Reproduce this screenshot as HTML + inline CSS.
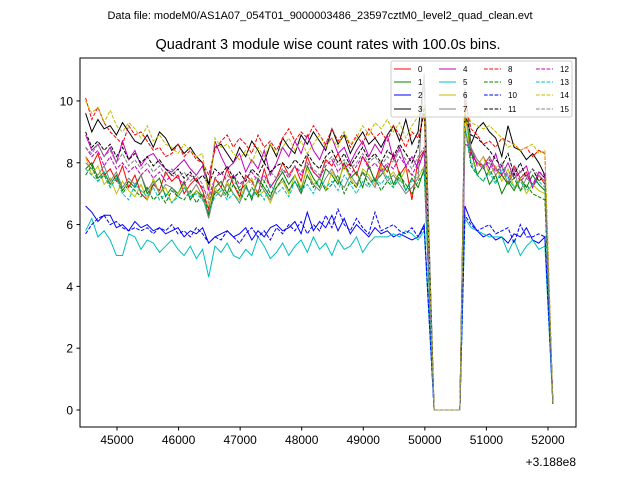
<!DOCTYPE html>
<html><head><meta charset="utf-8"><style>
body{margin:0;background:#fff;}
svg{display:block;font-family:"Liberation Sans","DejaVu Sans",sans-serif;}
</style></head><body>
<svg id="chart" width="640" height="480" viewBox="0 0 640 480" xmlns="http://www.w3.org/2000/svg">
<rect x="0" y="0" width="640" height="480" fill="#fff"/>
<text x="320" y="19" font-size="11" text-anchor="middle">Data file: modeM0/AS1A07_054T01_9000003486_23597cztM0_level2_quad_clean.evt</text>
<text x="328" y="49" font-size="14.5" text-anchor="middle">Quadrant 3 module wise count rates with 100.0s bins.</text>
<defs><clipPath id="pc"><rect x="80" y="58" width="496" height="369"/></clipPath></defs>
<g id="series" clip-path="url(#pc)"></g>
<rect x="80" y="58" width="496" height="369" fill="none" stroke="#000" stroke-width="1"/>
<g id="axes"></g>
<text x="576" y="466" font-size="12" text-anchor="end">+3.188e8</text>
<g id="legend"></g>
</svg>
<script>
const preTimes = [];
for (let i = 0; i < 56; i++) preTimes.push(44490 + 100 * i);
const gapTimes = [50150, 50250, 50350, 50450, 50570];
const postTimes = [50650,50750,50850,50950,51050,51150,51250,51350,51450,51550,51650,51750,51850,51950];
const endTime = 52080;
const gapValues = [0, 0, 0, 0, 0];
const xTicks = [45000,46000,47000,48000,49000,50000,51000,52000];
const yTicks = [0,2,4,6,8,10];
const seriesNames = ["0","1","2","3","4","5","6","7","8","9","10","11","12","13","14","15"];

const pre0=[8.2,7.9,8.3,7.6,7.8,7.4,7.9,7.2,7.6,7.0,6.8,7.3,7.1,7.7,7.4,7.6,7.0,7.3,7.5,7.1,6.5,7.5,7.2,7.8,7.3,6.9,7.6,7.4,7.0,7.8,7.2,7.5,8.0,7.6,7.9,7.4,8.2,7.7,7.5,8.1,7.9,8.3,7.8,8.0,7.6,8.2,7.9,7.4,8.0,7.7,8.3,7.6,7.9,6.8,8.1,8.4];
const post0=[9.6,8.3,8.0,7.9,8.2,7.8,7.6,7.3,7.9,7.5,7.7,7.2,7.6,7.3,0.2];
const pre1=[7.8,8.0,7.5,7.7,7.3,7.6,7.1,7.4,7.2,7.6,7.0,7.3,7.5,6.9,7.2,7.0,7.4,6.8,7.1,6.9,6.3,7.2,7.4,7.0,7.6,7.1,7.3,6.8,7.5,7.2,6.9,7.4,7.7,7.3,7.6,7.1,7.9,7.5,7.2,7.8,7.6,7.3,8.0,7.5,7.7,7.2,7.9,7.4,7.6,7.9,7.3,7.7,7.1,7.5,7.2,7.8];
const post1=[9.7,8.4,7.6,7.9,7.3,7.6,7.0,7.4,7.1,7.5,7.2,7.6,7.3,7.1,0.2];
const pre2=[6.6,6.4,6.1,6.3,6.3,5.9,6.0,5.8,6.1,5.9,6.0,5.8,5.9,5.7,5.8,5.9,5.6,5.8,5.7,5.9,5.4,5.6,5.7,5.8,5.6,5.7,5.9,5.5,5.8,5.6,5.9,6.0,5.8,5.9,6.1,5.7,6.4,5.8,6.1,5.9,6.3,5.8,6.2,5.7,6.0,5.8,5.6,5.9,5.7,5.8,5.6,5.7,5.6,5.5,5.6,6.0];
const post2=[6.6,6.1,5.8,5.6,5.7,5.5,5.6,5.4,5.7,5.6,5.9,5.5,5.4,5.6,0.2];
const pre3=[9.6,9.0,9.4,9.1,9.2,8.9,9.3,9.0,8.7,8.6,8.9,8.5,9.0,8.8,8.4,8.6,8.3,8.5,8.2,8.0,7.3,8.5,8.6,8.3,8.0,8.5,8.2,8.7,8.4,8.0,8.6,8.2,8.8,8.5,8.3,8.9,8.6,9.0,8.7,8.4,9.1,8.6,8.9,8.3,8.7,9.0,8.6,8.8,8.5,8.9,9.2,8.7,9.4,8.6,9.0,10.8];
const post3=[10.4,8.6,9.1,9.3,9.0,8.8,8.2,9.2,8.5,8.4,8.1,8.3,8.0,7.6,0.2];
const pre4=[8.9,8.4,8.6,8.2,8.5,8.0,8.7,8.1,8.4,7.9,8.2,8.3,8.0,7.8,7.7,7.9,8.1,7.8,7.6,7.9,7.1,8.7,8.2,7.8,8.0,8.3,7.7,8.1,7.8,8.4,7.6,8.0,8.5,8.2,8.7,8.3,8.9,8.4,8.1,8.6,8.8,8.3,8.5,8.0,8.4,8.7,8.2,8.6,8.3,8.9,8.1,8.5,7.9,8.2,7.8,8.4];
const post4=[8.6,8.5,7.9,8.2,7.8,8.3,7.6,8.0,7.5,7.7,7.9,7.2,7.7,7.5,0.2];
const pre5=[5.8,6.2,5.6,5.8,5.5,5.0,5.0,5.7,5.6,5.2,5.5,5.4,5.1,5.3,5.5,5.2,5.0,5.3,4.9,5.2,4.3,5.3,5.1,5.4,5.0,4.9,5.2,5.0,5.6,5.3,4.9,5.1,5.4,5.0,5.3,5.5,5.1,5.6,5.2,5.4,5.0,5.5,5.2,5.3,5.6,5.1,5.4,5.6,5.6,5.6,5.7,5.6,5.8,5.7,5.5,5.8];
const post5=[6.2,5.9,5.8,5.7,5.6,5.6,5.6,5.1,5.5,5.0,5.3,5.5,5.2,5.3,0.2];
const pre6=[8.2,7.6,7.9,7.3,7.5,7.0,7.4,7.1,6.9,7.3,6.8,7.5,7.0,7.2,6.7,7.0,7.3,6.9,7.1,6.8,6.6,7.2,6.9,7.4,7.0,6.8,7.3,7.5,6.9,7.1,6.7,7.2,7.4,7.0,7.6,7.2,7.8,7.3,7.5,7.1,7.7,7.4,7.9,7.5,7.2,7.8,7.6,7.3,7.9,7.5,7.7,7.4,7.8,7.6,7.5,7.9];
const post6=[9.8,8.0,7.9,8.2,7.6,7.9,7.4,7.8,7.2,7.5,7.0,7.3,7.1,7.0,0.2];
const pre7=[8.0,7.8,7.6,7.9,7.4,7.7,7.2,7.5,7.3,7.6,7.1,7.4,7.0,7.3,7.2,6.9,7.2,7.0,7.3,6.9,6.2,7.1,6.9,7.3,7.0,6.7,7.2,6.9,7.4,7.1,6.8,7.2,7.5,7.1,7.4,7.0,7.6,7.3,7.1,7.5,7.8,7.4,7.2,7.6,7.3,7.7,7.5,7.2,7.8,7.4,7.6,7.3,7.0,7.2,7.5,10.9];
const post7=[10.4,8.5,8.1,7.9,8.0,7.6,7.9,7.3,7.7,7.1,7.5,7.3,7.6,7.4,0.2];
const pre8=[10.1,9.4,9.8,9.3,9.0,8.8,8.6,9.2,8.9,9.0,8.7,8.4,8.5,8.2,8.3,8.6,8.2,8.4,8.1,8.0,7.6,8.4,8.7,8.9,8.5,8.8,8.6,8.3,8.9,8.5,8.7,8.4,8.8,9.1,8.7,9.0,8.8,9.2,8.9,8.6,9.1,8.7,9.0,8.5,8.9,8.6,9.1,8.8,9.0,8.7,9.2,8.9,8.5,9.0,8.8,9.6];
const post8=[10.0,9.1,8.9,8.6,8.7,8.5,8.8,8.7,8.6,8.4,8.5,8.2,8.4,8.3,0.2];
const pre9=[7.6,7.9,7.4,7.6,7.2,7.5,7.0,7.3,7.1,6.9,7.2,6.8,7.0,6.7,7.1,6.9,6.8,7.1,6.7,7.0,6.4,7.0,7.2,6.9,7.3,7.0,6.8,7.2,6.9,7.4,7.0,7.2,7.5,7.1,7.4,7.0,7.6,7.2,7.5,7.1,7.3,7.6,7.0,7.4,7.2,7.7,7.3,7.5,7.1,7.4,7.2,7.6,7.3,7.0,7.4,7.7];
const post9=[9.2,7.9,7.6,7.4,7.8,7.4,7.6,7.3,7.5,7.1,7.3,7.0,6.9,6.8,0.2];
const pre10=[5.7,6.0,6.2,6.3,6.0,6.1,5.9,5.8,5.9,5.8,5.9,5.7,5.9,5.8,6.0,5.7,5.8,5.6,5.9,5.7,5.4,5.6,5.5,5.8,5.6,5.4,5.7,5.9,5.6,5.8,5.5,5.9,5.7,6.0,5.8,6.1,5.7,6.0,5.8,6.3,5.9,6.5,6.0,5.8,6.2,5.9,5.7,6.4,5.8,5.9,6.0,5.8,5.7,5.9,5.6,5.9];
const post10=[6.3,6.0,5.8,5.9,6.0,5.7,5.8,5.9,5.4,6.0,5.6,5.6,5.7,5.6,0.2];
const pre11=[9.0,8.5,8.7,8.4,8.6,8.2,8.5,8.1,8.3,8.0,8.2,7.9,8.1,7.8,7.6,7.8,7.5,7.7,7.4,7.6,7.3,7.8,7.6,7.9,7.5,7.7,7.4,7.8,7.6,8.0,7.7,7.9,8.0,7.8,8.1,7.9,8.3,8.0,7.8,8.2,8.4,8.0,8.3,7.9,8.2,8.5,8.1,8.3,8.0,8.4,8.2,8.6,8.3,8.0,8.5,9.8];
const post11=[9.6,8.9,8.8,8.6,8.4,8.1,7.9,8.3,7.6,8.0,7.5,7.8,7.4,7.6,0.2];
const pre12=[8.5,8.2,8.4,7.9,8.2,7.8,8.0,7.7,7.9,7.6,7.8,7.5,7.7,7.4,7.6,7.5,7.3,7.6,7.4,7.2,6.9,7.5,7.7,7.4,7.6,7.3,7.5,7.7,7.4,7.6,7.2,7.5,7.8,7.5,7.9,7.6,8.0,7.7,7.5,7.9,8.1,7.7,8.0,7.6,7.9,8.2,7.8,8.0,7.7,8.0,7.8,8.2,7.9,7.6,8.0,8.3];
const post12=[9.1,8.2,8.0,7.8,8.1,7.7,7.9,7.5,7.8,7.4,7.6,7.3,7.7,7.6,0.2];
const pre13=[7.8,7.6,7.4,7.7,7.2,7.5,7.0,6.8,7.3,7.1,6.9,7.2,6.8,7.0,6.7,6.9,7.2,6.9,7.0,6.8,6.4,6.9,7.1,6.8,7.0,6.7,7.2,6.9,7.1,6.8,7.3,7.0,7.2,6.9,7.4,7.1,7.3,7.0,7.5,7.2,7.4,7.1,7.6,7.3,7.0,7.4,7.2,7.5,7.3,7.6,7.2,7.5,7.1,7.4,7.7,7.8];
const post13=[9.2,8.0,7.6,7.4,7.7,7.3,7.8,7.5,7.2,7.4,7.1,7.3,7.4,7.2,0.2];
const pre14=[10.0,9.6,9.8,9.3,9.7,9.2,9.0,9.3,9.1,8.8,9.2,8.7,8.9,8.6,8.5,8.3,8.6,8.4,8.2,8.3,6.8,8.8,8.5,8.6,8.3,8.1,8.4,8.0,8.5,8.2,8.6,8.3,8.5,8.8,8.4,8.7,8.3,8.6,8.9,8.5,8.8,8.5,9.0,8.6,8.8,9.2,8.9,9.3,9.1,9.4,9.0,9.3,8.8,9.2,9.5,9.9];
const post14=[9.8,9.3,9.2,9.1,9.2,9.0,8.8,8.5,8.6,8.4,8.5,8.6,8.3,8.4,0.2];
const pre15=[8.5,8.3,8.6,8.2,8.4,8.0,8.3,7.9,8.1,7.8,8.0,7.7,7.9,7.6,7.8,7.5,7.7,7.4,7.6,7.3,6.7,7.5,7.3,7.6,7.4,7.2,7.5,7.3,7.6,7.4,7.7,7.5,7.8,7.6,7.9,7.7,8.0,7.8,7.6,8.0,8.2,7.9,8.1,7.8,8.0,8.3,8.0,8.2,7.9,8.2,8.0,8.4,8.1,7.8,8.2,8.5];
const post15=[9.0,8.4,8.1,7.9,8.2,7.8,8.0,7.6,7.9,7.7,7.5,7.8,7.6,7.4,0.2];

const pres=[pre0,pre1,pre2,pre3,pre4,pre5,pre6,pre7,pre8,pre9,pre10,pre11,pre12,pre13,pre14,pre15];
const posts=[post0,post1,post2,post3,post4,post5,post6,post7,post8,post9,post10,post11,post12,post13,post14,post15];
const colors=["#ff0000","#008000","#0000ff","#000000","#bf00bf","#00bfbf","#bfbf00","#808080"];

const X0=80,X1=576,Y0=58,Y1=427;
const xMin=44399,xMax=52455,yMin=-0.55,yMax=11.39;
function xs(t){return X0+(t-xMin)/(xMax-xMin)*(X1-X0);}
function ys(v){return Y1-(v-yMin)/(yMax-yMin)*(Y1-Y0);}
const NS="http://www.w3.org/2000/svg";
function mk(tag,attrs,parent){const e=document.createElementNS(NS,tag);for(const k in attrs)e.setAttribute(k,attrs[k]);parent.appendChild(e);return e;}

const times=preTimes.concat(gapTimes,postTimes,[endTime]);
const sg=document.getElementById('series');
for(let s=0;s<16;s++){
  const vals=pres[s].concat(gapValues,posts[s]);
  const pts=vals.map((v,i)=>xs(times[i]).toFixed(1)+','+ys(v).toFixed(1)).join(' ');
  const attrs={points:pts,fill:'none',stroke:colors[s%8],'stroke-width':1};
  if(s>=8)attrs['stroke-dasharray']='3.7,1.6';
  const pl=mk('polyline',attrs,sg);
  
  
}
const ax=document.getElementById('axes');
xTicks.forEach(t=>{
  const x=xs(t);
  const l=mk('line',{x1:x,x2:x,y1:Y1,y2:Y1+3.5,stroke:'#000'},ax);
  
  
  const tx=mk('text',{x:x,y:Y1+17,'font-size':12,'text-anchor':'middle'},ax);
  tx.textContent=t;
  
  
});
yTicks.forEach(v=>{
  const y=ys(v);
  const l=mk('line',{x1:X0-3.5,x2:X0,y1:y,y2:y,stroke:'#000'},ax);
  
  
  const tx=mk('text',{x:X0-7,y:y+4.5,'font-size':12,'text-anchor':'end'},ax);
  tx.textContent=v;
  
  
});
const lg=document.getElementById('legend');
const box=mk('rect',{x:391,y:61,width:181,height:56,rx:2,fill:'#fff','fill-opacity':0.8,stroke:'#ccc'},lg);


const colX=[394,439,484,536];
const rowY=[69,82,95,109];
for(let s=0;s<16;s++){
  const c=Math.floor(s/4),r=s%4;
  const attrs={x1:colX[c],x2:colX[c]+17,y1:rowY[r],y2:rowY[r],stroke:colors[s%8],'stroke-width':1};
  if(s>=8)attrs['stroke-dasharray']='3.7,1.6';
  const l=mk('line',attrs,lg);
  
  
  const tx=mk('text',{x:colX[c]+24,y:rowY[r]+3,'font-size':8},lg);
  tx.textContent=seriesNames[s];
  
  
}
</script>
</body></html>
